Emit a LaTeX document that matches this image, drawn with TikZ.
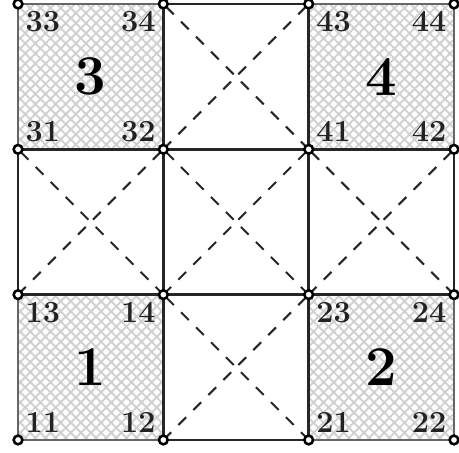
\documentclass[tikz,border=0pt]{standalone}
\usepackage{tikz}
\usetikzlibrary{patterns.meta,calc}
\definecolor{hatchgray}{HTML}{D0D0D0}
\definecolor{labgray}{HTML}{222222}

\begin{document}
\begin{tikzpicture}[
  elem/.style={draw=black!60,line width=0.8pt,
    pattern={Hatch[angle=45,distance=2.8pt,line width=0.75pt]},pattern color=hatchgray},
  cell/.style={draw=black!85,line width=1pt},
  diag/.style={black!85,line width=0.8pt,dash pattern=on 4.3pt off 4pt},
  knot/.style={circle,draw,fill=white,line width=1pt,minimum size=0.12cm,inner sep=0pt},
  cornum/.style={font=\fontsize{12}{14}\selectfont\bfseries,text=labgray,inner sep=2.8pt},
  elnum/.style={font=\fontsize{22}{26}\selectfont\bfseries}]
\useasboundingbox (-0.248,-0.179) rectangle (6.069,6.055);

% ---- grid points -------------------------------------------------------
\foreach \i in {0,...,3}
  \foreach \j in {0,...,3}
    \coordinate (g\i\j) at (2*\i,2*\j);

% ---- hatched corner elements -------------------------------------------
\draw[elem] (g00) rectangle (g11);
\draw[elem] (g20) rectangle (g31);
\draw[elem] (g02) rectangle (g13);
\draw[elem] (g22) rectangle (g33);

% ---- open cells with their diagonals -----------------------------------
\foreach \a/\b/\c/\d in {1/0/2/1, 0/1/1/2, 1/1/2/2, 2/1/3/2, 1/2/2/3} {
  \draw[cell] (g\a\b) rectangle (g\c\d);
  \draw[diag] (g\a\b) -- (g\c\d);
  \draw[diag] (g\c\b) -- (g\a\d);
}

% ---- element and corner numbers ----------------------------------------
\foreach \e/\a/\b/\c/\d in {1/0/0/1/1, 2/2/0/3/1, 3/0/2/1/3, 4/2/2/3/3} {
  \node[elnum] (n\e) at ($(g\a\b)!0.5!(g\c\d)$) {\e};
  \node[cornum,anchor=south west] (c\e1) at (g\a\b) {\e1};
  \node[cornum,anchor=south east] (c\e2) at (g\c\b) {\e2};
  \node[cornum,anchor=north west] (c\e3) at (g\a\d) {\e3};
  \node[cornum,anchor=north east] (c\e4) at (g\c\d) {\e4};
}

% ---- nodal circles -----------------------------------------------------
\foreach \i in {0,...,3}
  \foreach \j in {0,...,3}
    \node[knot] (k\i\j) at (g\i\j) {};
\end{tikzpicture}
\end{document}
